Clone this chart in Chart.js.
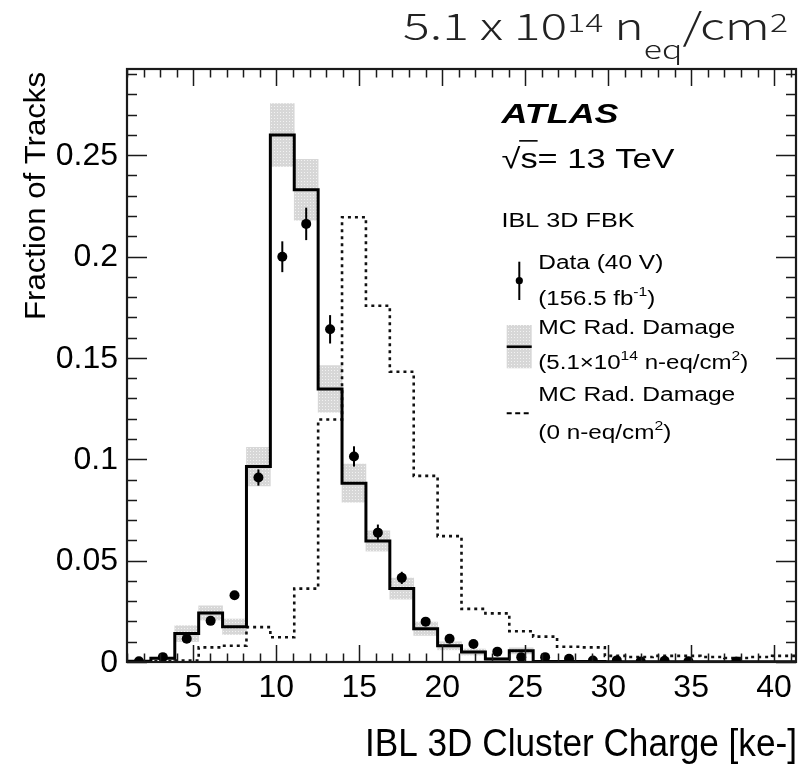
<!DOCTYPE html>
<html>
<head>
<meta charset="utf-8">
<script src="https://cdn.jsdelivr.net/npm/chart.js@4.4.1/dist/chart.umd.min.js"></script>
<style>
  html, body { margin: 0; padding: 0; background: #fff; }
  #wrap { width: 801px; height: 767px; }
</style>
</head>
<body>
<div id="wrap"><canvas id="c" width="801" height="767"></canvas></div>
<script>
// bin edges of the IBL 3D cluster charge histogram [ke-]
const binEdges = [1.00, 2.44, 3.88, 5.32, 6.76, 8.20, 9.64, 11.08, 12.52, 13.96, 15.40,
                  16.84, 18.28, 19.72, 21.16, 22.60, 24.04, 25.48, 26.92, 28.36, 29.80,
                  31.24, 32.68, 34.12, 35.56, 37.00, 38.44, 39.88, 41.32];

// Data (40 V), fraction of tracks per bin (null = no point drawn)
const dataVals = [0.0004, 0.0024, 0.0115, 0.0203, 0.0329, 0.0910, 0.1999, 0.2161, 0.1641, 0.1014,
                  0.0638, 0.0415, 0.0199, 0.0115, 0.0089, 0.0051, 0.0024, 0.0024, 0.0016, 0.0007,
                  0.0008, 0.0003, 0.0006, 0.0004, null, 0.0003, null, null];
const dataErr  = [0, 0, 0.0006, 0.0010, 0.0015, 0.0040, 0.0076, 0.0080, 0.0070, 0.0050,
                  0.0040, 0.0030, 0.0020, 0.0010, 0.0010, 0.0008, 0.0005, 0.0005, 0.0004, 0.0003,
                  0.0003, 0.0002, 0.0002, 0.0002, 0, 0.0002, 0, 0];

// MC with radiation damage (5.1e14 n-eq/cm2) and its uncertainty band half-width
const mcRad    = [0.0004, 0.0018, 0.0140, 0.0242, 0.0174, 0.0964, 0.2600, 0.2329, 0.1347, 0.0882,
                  0.0597, 0.0362, 0.0164, 0.0080, 0.0049, 0.0015, 0.0055, 0.0003, 0.0002, 0.0002,
                  0.0001, 0.0001, 0.0001, 0.0001, 0.0001, 0.0001, 0.0001, 0.0001];
const mcRadErr = [0.0003, 0.0006, 0.0039, 0.0035, 0.0038, 0.0095, 0.0155, 0.0150, 0.0115, 0.0094,
                  0.0050, 0.0052, 0.0033, 0.0020, 0.0015, 0.0008, 0.0015, 0.0003, 0.0002, 0.0002,
                  0.0001, 0.0001, 0.0001, 0.0001, 0.0001, 0.0001, 0.0001, 0.0001];

// MC without radiation damage (0 n-eq/cm2)
const mcNoRad  = [0.0000, 0.0003, 0.0007, 0.0072, 0.0080, 0.0172, 0.0122, 0.0362, 0.1196, 0.2194,
                  0.1757, 0.1432, 0.0918, 0.0621, 0.0262, 0.0240, 0.0152, 0.0125, 0.0075, 0.0072,
                  0.0030, 0.0025, 0.0030, 0.0030, 0.0025, 0.0020, 0.0025, 0.0030];

const xTickVals   = [5, 10, 15, 20, 25, 30, 35, 40];
const xTickLabels = ['5', '10', '15', '20', '25', '30', '35', '40'];
const yTickVals   = [0, 0.05, 0.1, 0.15, 0.2, 0.25];
const yTickLabels = ['0', '0.05', '0.1', '0.15', '0.2', '0.25'];

const FONT = '"Liberation Sans", Arial, Helvetica, sans-serif';
const TITLE_FONT = '"Noto Sans CJK JP", "Noto Sans", sans-serif';

const centers = binEdges.slice(0, -1).map((e, i) => (e + binEdges[i + 1]) / 2);
// histogram outline: each lower edge carries its bin value, last edge repeats the last bin
const stepPoints = vals => binEdges.map((e, i) => ({ x: e, y: vals[Math.min(i, vals.length - 1)] }));

// light grey band with fine white dots (ROOT-like fill pattern)
function bandPattern() {
    const t = document.createElement('canvas');
    t.width = 3; t.height = 3;
    const g = t.getContext('2d');
    g.fillStyle = '#d7d7d7'; g.fillRect(0, 0, 3, 3);
    g.fillStyle = '#f2f2f2'; g.fillRect(1, 1, 1, 1);
    return document.getElementById('c').getContext('2d').createPattern(t, 'repeat');
}
const band = bandPattern();

// text runs squeezed/stretched to the width measured on the original figure
function drawRuns(ctx, runs, x, y, fam, width, align) {
    let total = 0;
    runs.forEach(r => {
        ctx.font = (r.style || '') + ' ' + r.size + 'px ' + fam;
        r.w = ctx.measureText(r.t).width;
        total += r.w;
    });
    const s = width ? width / total : 1;
    ctx.save();
    ctx.translate(align === 'right' ? x - total * s : x, y);
    ctx.scale(s, 1);
    ctx.textAlign = 'left';
    ctx.textBaseline = 'alphabetic';
    let cx = 0;
    runs.forEach(r => {
        ctx.font = (r.style || '') + ' ' + r.size + 'px ' + fam;
        ctx.fillText(r.t, cx, r.dy || 0);
        if (r.over) {
            ctx.lineWidth = 1.6;
            ctx.strokeStyle = '#000';
            ctx.beginPath();
            ctx.moveTo(cx - 1, -r.size * 0.98);
            ctx.lineTo(cx + r.w, -r.size * 0.98);
            ctx.stroke();
        }
        cx += r.w;
    });
    ctx.restore();
}

const atlasDecor = {
    id: 'atlasDecor',
    afterDatasetsDraw(chart) {
        // data error bars
        const ctx = chart.ctx, xs = chart.scales.x, ys = chart.scales.y;
        ctx.save();
        ctx.strokeStyle = '#000';
        ctx.lineWidth = 2;
        dataVals.forEach((v, i) => {
            if (v === null || !dataErr[i]) return;
            const px = xs.getPixelForValue(centers[i]);
            ctx.beginPath();
            ctx.moveTo(px, ys.getPixelForValue(v - dataErr[i]));
            ctx.lineTo(px, ys.getPixelForValue(v + dataErr[i]));
            ctx.stroke();
        });
        ctx.restore();
    },
    afterDraw(chart) {
        const ctx = chart.ctx, xs = chart.scales.x, ys = chart.scales.y;
        const a = chart.chartArea;
        ctx.save();
        ctx.strokeStyle = '#1a1a1a';

        // inward ticks on all four sides
        ctx.lineWidth = 1.5;
        ctx.beginPath();
        for (let v = Math.ceil(xs.min); v <= xs.max; v++) {
            const px = Math.round(xs.getPixelForValue(v)) + 0.5;
            const len = v % 5 === 0 ? 17 : 8.5;
            ctx.moveTo(px, a.bottom); ctx.lineTo(px, a.bottom - len);
            ctx.moveTo(px, a.top); ctx.lineTo(px, a.top + len);
        }
        for (let k = 0; k * 0.01 <= ys.max + 1e-9; k++) {
            const py = Math.round(ys.getPixelForValue(k * 0.01)) + 0.5;
            const len = k % 5 === 0 ? 20 : 10;
            ctx.moveTo(a.left, py); ctx.lineTo(a.left + len, py);
            ctx.moveTo(a.right, py); ctx.lineTo(a.right - len, py);
        }
        ctx.stroke();

        // frame
        ctx.lineWidth = 2.2;
        ctx.strokeRect(a.left, a.top, a.right - a.left, a.bottom - a.top);

        // tick labels
        ctx.fillStyle = '#000';
        ctx.font = '32px ' + FONT;
        ctx.textAlign = 'center';
        ctx.textBaseline = 'alphabetic';
        xTickVals.forEach((v, i) => ctx.fillText(xTickLabels[i], xs.getPixelForValue(v), 697));
        ctx.textAlign = 'right';
        ctx.textBaseline = 'middle';
        yTickVals.forEach((v, i) => ctx.fillText(yTickLabels[i], 118, ys.getPixelForValue(v) + 1));

        // axis titles
        drawRuns(ctx, [{ t: 'IBL 3D Cluster Charge [ke-]', size: 38 }], 797, 756, FONT, 432, 'right');
        ctx.save();
        ctx.translate(45, 320);
        ctx.rotate(-Math.PI / 2);
        drawRuns(ctx, [{ t: 'Fraction of Tracks', size: 30 }], 0, 0, FONT, 248, 'left');
        ctx.restore();

        // ATLAS label block
        drawRuns(ctx, [{ t: 'ATLAS', size: 28, style: 'italic bold' }], 501.5, 123.3, FONT, 117);
        drawRuns(ctx, [{ t: '\u221A', size: 28 }, { t: 's', size: 28, over: true }, { t: '= 13 TeV', size: 28 }],
                 501.5, 168.3, FONT, 173);
        drawRuns(ctx, [{ t: 'IBL 3D FBK', size: 21 }], 501.5, 226.7, FONT, 133);

        // legend
        const lx = 538.3;
        drawRuns(ctx, [{ t: 'Data (40 V)', size: 20 }], lx, 269.3, FONT, 125);
        drawRuns(ctx, [{ t: '(156.5 fb', size: 20 }, { t: '-1', size: 13, dy: -9 }, { t: ')', size: 20 }],
                 lx, 305, FONT, 117);
        drawRuns(ctx, [{ t: 'MC Rad. Damage', size: 20 }], lx, 334, FONT, 197);
        drawRuns(ctx, [{ t: '(5.1\u00D710', size: 20 }, { t: '14', size: 13, dy: -9 }, { t: ' n-eq/cm', size: 20 },
                       { t: '2', size: 13, dy: -9 }, { t: ')', size: 20 }], lx, 369, FONT, 210);
        drawRuns(ctx, [{ t: 'MC Rad. Damage', size: 20 }], lx, 400.7, FONT, 197);
        drawRuns(ctx, [{ t: '(0 n-eq/cm', size: 20 }, { t: '2', size: 13, dy: -9 }, { t: ')', size: 20 }],
                 lx, 439, FONT, 133);

        // legend symbols
        ctx.strokeStyle = '#000';
        ctx.lineWidth = 2;
        ctx.beginPath(); ctx.moveTo(519.3, 261.7); ctx.lineTo(519.3, 300); ctx.stroke();
        ctx.fillStyle = '#000';
        ctx.beginPath(); ctx.arc(519.3, 280.7, 3.6, 0, Math.PI * 2); ctx.fill();
        ctx.fillStyle = band;
        ctx.fillRect(506.7, 325, 25, 43.3);
        ctx.lineWidth = 2.5;
        ctx.beginPath(); ctx.moveTo(506.7, 346.7); ctx.lineTo(531.7, 346.7); ctx.stroke();
        ctx.lineWidth = 2;
        ctx.setLineDash([5, 3.5]);
        ctx.beginPath(); ctx.moveTo(506.7, 413.3); ctx.lineTo(529.5, 413.3); ctx.stroke();
        ctx.setLineDash([]);

        // fluence title above the frame
        ctx.fillStyle = '#222';
        drawRuns(ctx, [{ t: '5.1 x 10', size: 37, style: '300' }, { t: '14', size: 25, dy: -8, style: '300' },
                       { t: ' n', size: 37, style: '300' }, { t: 'eq', size: 25, dy: 19, style: '300' },
                       { t: '/cm', size: 37, style: '300' }, { t: '2', size: 25, dy: -8, style: '300' }],
                 788, 40, TITLE_FONT, 385, 'right');
        ctx.restore();
    }
};

new Chart(document.getElementById('c'), {
    type: 'scatter',
    data: {
        datasets: [
            {
                type: 'scatter',
                label: 'Data (40 V)',
                data: centers.map((c, i) => ({ x: c, y: dataVals[i] })),
                pointRadius: 5,
                pointBackgroundColor: '#000',
                pointBorderWidth: 0,
                showLine: false,
                order: 0
            },
            {
                type: 'line',
                label: 'MC Rad. Damage (5.1x10^14 n-eq/cm2)',
                data: stepPoints(mcRad),
                stepped: 'before',
                borderColor: '#000',
                borderWidth: 3,
                pointRadius: 0,
                fill: false,
                order: 1
            },
            {
                type: 'line',
                label: 'MC Rad. Damage (0 n-eq/cm2)',
                data: stepPoints(mcNoRad),
                stepped: 'before',
                borderColor: '#111',
                borderWidth: 2.6,
                borderDash: [3, 4],
                pointRadius: 0,
                fill: false,
                order: 2
            },
            {
                type: 'bar',
                label: 'MC uncertainty',
                data: centers.map((c, i) => ({ x: c, y: [mcRad[i] - mcRadErr[i], mcRad[i] + mcRadErr[i]] })),
                backgroundColor: band,
                borderWidth: 0,
                barPercentage: 1,
                categoryPercentage: 1,
                grouped: false,
                order: 3
            }
        ]
    },
    options: {
        responsive: false,
        animation: false,
        events: [],
        layout: { padding: { left: 127, right: 3, top: 69, bottom: 105 } },
        plugins: { legend: { display: false }, tooltip: { enabled: false } },
        scales: {
            x: { type: 'linear', min: 1, max: 41.32, display: false, offset: false },
            y: { type: 'linear', min: 0, max: 0.2925, display: false }
        }
    },
    plugins: [atlasDecor]
});
</script>
</body>
</html>
